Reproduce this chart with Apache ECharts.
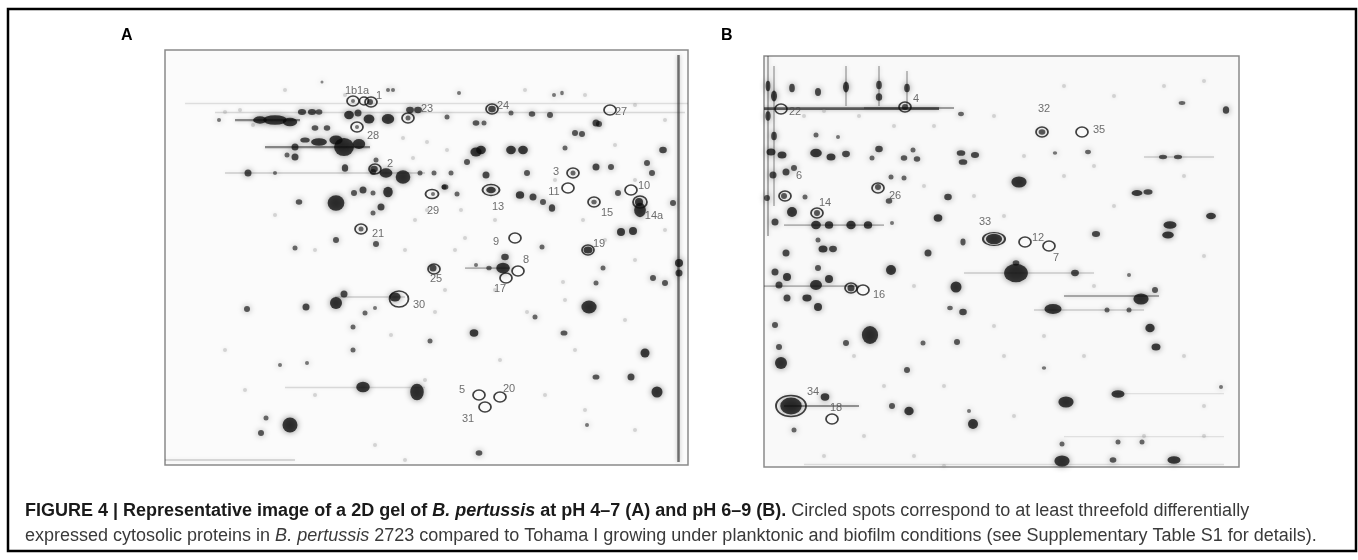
<!DOCTYPE html>
<html>
<head>
<meta charset="utf-8">
<title>2D gel B. pertussis</title>
<script src="https://cdn.jsdelivr.net/npm/echarts@6/dist/echarts.min.js"></script>
<style>html,body{margin:0;background:#fff;}</style>
</head>
<body>
<div id="main" style="width:1358px;height:560px;"></div>
<script type="text/javascript">
// gel A, pH 4-7 : [x, y, volume, elongation] in gel pixels
const spotsA = [
  [110,70,14,2.6],[95,70,9,2],[125,72,10,1.8],[54,70,3,1],
  [137,62,6,1.4],[147,62,6,1.4],[154,62,5,1.3],[150,78,5,1.3],[162,78,5,1.2],
  [184,65,8,1.2],[204,69,9,1.2],[223,69,10,1.3],[193,63,6,1],[245,60,6,1.3],[253,60,6,1.3],
  [179,97,18,1.1],[154,92,10,2.2],[171,90,10,1.5],[194,94,10,1.3],[140,90,6,2],
  [130,97,6,1],[130,107,6,1],[122,105,4,1],[83,123,6,1],[110,123,3,1],[180,118,6,0.8],
  [211,110,4,1],[221,123,10,1.4],[238,127,13,1.1],[208,122,5,1],[255,123,4,1],[269,123,4,1],[286,123,4,1],
  [280,137,5,1.3],[292,144,4,1],[302,112,5,1],[311,102,9,1.3],[316,100,8,1.2],[321,125,6,1],
  [346,100,8,1.2],[358,100,8,1.2],[362,123,5,1],[355,145,7,1.1],[368,147,6,1],[378,152,5,1],[387,158,6,0.8],
  [400,98,4,1],[410,83,5,1],[417,84,5,1],[431,73,6,1],[434,74,5,1],[431,117,6,1],[446,117,5,1],
  [482,113,5,1],[498,100,6,1.2],[453,143,5,1],[456,182,7,1],[468,181,7,1],[475,160,12,0.8],
  [508,153,5,1],[487,123,5,1],[367,64,5,1.2],[385,65,5,1],[346,63,4,1],[311,73,5,1.3],[319,73,4,1],
  [282,67,4,1],[397,43,3,0.8],[389,45,3,1],[294,43,3,1],[228,40,3,1],[223,40,3,1],[157,32,2,1],
  [171,153,15,1.1],[134,152,5,1.2],[189,143,5,1],[198,140,6,1],[208,143,4,1],[223,142,9,0.9],
  [216,157,6,1],[208,163,4,1],[171,190,5,1],[130,198,4,1],[211,194,5,1],[279,137,4,1],
  [340,207,6,1.2],[377,197,4,1],
  [338,218,11,1.3],[324,218,4,1.2],[268,218,6,1],[311,215,3,1],[179,244,6,1],[171,253,11,1],
  [141,257,6,1],[82,259,5,1],[230,247,9,1.3],[200,263,4,1],[210,258,3,1],[424,257,13,1.2],
  [431,233,4,1],[514,213,7,1],[514,223,6,1],[488,228,5,1],[500,233,5,1],[438,218,4,1],
  [309,283,7,1.2],[399,283,5,1.4],[265,291,4,1],[188,277,4,1],[188,300,4,1],[480,303,8,1],[370,267,4,1],
  [198,337,11,1.3],[252,342,14,0.8],[431,327,5,1.4],[466,327,6,1],[492,342,10,1],[125,375,14,1],
  [96,383,5,1],[101,368,4,1],[314,403,5,1.3],[422,375,3,1],[142,313,3,1],[115,315,3,1],
  [192,77,3,1],[268,144,3,1],[429,152,4,1.2],[474,152,7,1],[423,200,7,1.3],[196,179,4,1],
  [327,59,6,1.2],[209,119,6,1.2],[408,123,4,1],[243,68,4,1],[205,52,5,1],[188,51,3,1],[326,140,7,1.5]
];
const faintA = [
  [60,62],[75,60],[88,75],[238,88],[262,92],[282,100],[248,108],[262,160],[296,160],[330,170],
  [300,188],[418,170],[440,190],[470,210],[398,232],[362,262],[270,262],[226,285],[410,300],
  [335,310],[260,330],[380,345],[420,360],[470,380],[150,345],[210,395],[240,410],[60,300],[80,340],
  [120,40],[180,45],[360,40],[420,45],[470,55],[500,70],[110,165],[150,200],[240,200],[280,240],
  [250,170],[290,200],[390,130],[450,95],[470,130],[500,180],[330,240],[400,250],[460,270]
];
// streaks: [x1, y1, x2, y2, density]
const streaksA = [
  [20,53,523,53,0.12],[50,62,520,62,0.15],[513,5,513,412,0.6],[100,97,205,97,0.5],
  [70,70,135,70,0.5],[60,123,260,123,0.2],[170,247,240,247,0.2],[120,337,260,337,0.15],[300,218,345,218,0.3],
  [0,410,130,410,0.2]
];
const circlesA = ['1b','1a','1','23','24','27','28','2','3','11','10','29','13','15','14a','21','9','19','8','25','17','30','5','20','31'];
const circleXA = [188,199,206,243,327,445,192,210,408,403,466,267,326,429,475,196,350,423,353,269,341,234,314,335,320];
const circleYA = [51,51,52,68,59,60,77,119,123,138,140,144,140,152,152,179,188,200,221,219,228,249,345,347,357];
const labelXA = [186,198,214,262,338,456,208,225,391,389,479,268,333,442,489,213,331,434,361,271,335,254,297,344,303];
const labelYA = [41,41,46,59,56,62,86,114,122,142,136,161,157,163,166,184,192,194,210,229,239,255,340,339,369];

// gel B, pH 6-9
const spotsB = [
  [28,32,6,0.6],[54,36,6,0.7],[82,31,7,0.5],[115,29,6,0.6],[115,41,6,0.8],[143,32,6,0.6],
  [4,30,6,0.4],[10,40,7,0.5],[4,60,6,0.5],[10,80,6,0.6],[197,58,4,1.5],[52,79,4,1],[74,81,3,1],
  [7,96,7,1.3],[18,99,7,1.3],[52,97,9,1.4],[67,101,7,1.3],[82,98,6,1.3],[115,93,6,1.2],[108,102,4,1],
  [140,102,5,1.2],[153,103,5,1.2],[149,94,4,1],[197,97,6,1.6],[211,99,6,1.4],[199,106,6,1.6],
  [9,119,6,1],[22,116,6,1],[30,112,5,1],[127,121,4,1],[140,122,4,1],[255,126,12,1.4],
  [184,141,6,1.2],[41,141,4,1],[3,142,5,1],[125,145,5,1.2],[28,156,9,1],[11,166,6,1],
  [52,169,8,1.2],[65,169,7,1.1],[87,169,8,1.1],[104,169,7,1.1],[174,162,7,1.2],[128,167,3,1],
  [199,186,5,0.7],[164,197,6,1],[59,193,7,1.3],[69,193,6,1.3],[22,197,6,1],[54,184,4,1],
  [332,178,6,1.4],[406,169,9,1.8],[404,179,8,1.8],[447,160,7,1.6],[373,137,7,2],[384,136,6,1.8],
  [399,101,5,2],[414,101,5,2],[291,97,3,1.3],[324,96,4,1.5],[462,54,6,0.8],[418,47,4,2],[252,207,5,1.3],
  [11,216,6,1],[23,221,7,1],[15,229,6,1],[23,242,6,1],[52,229,10,1.2],[65,223,7,1],[54,212,5,1],
  [43,242,7,1.4],[54,251,7,1],[127,214,9,1],[192,231,10,1],[199,256,6,1.2],[186,252,4,1.3],
  [252,217,20,1.3],[311,217,6,1.3],[365,219,3,1],[289,253,12,1.8],[343,254,4,1],[365,254,4,1],
  [377,243,12,1.4],[391,234,5,1],[386,272,8,1.1],[392,291,7,1.3],[106,279,16,0.9],[82,287,5,1],
  [159,287,4,1],[193,286,5,1],[11,269,5,1],[15,291,5,1],[17,307,11,1],[143,314,5,1],[280,312,3,1.3],
  [61,341,7,1.2],[27,350,18,1.3],[128,350,5,1],[145,355,8,1.1],[209,368,9,1],[302,346,12,1.4],
  [354,338,9,1.8],[30,374,4,1],[298,388,4,1],[298,405,12,1.4],[410,404,9,1.8],[349,404,5,1.3],
  [354,386,4,1],[378,386,4,1],[205,355,3,1],[457,331,3,1],
  [141,51,5,1],[278,76,5,1.3],[114,131,5,1],[20,140,5,1],[53,157,5,1],[230,183,12,1.6],[87,232,6,1]
];
const faintB = [
  [40,60],[60,55],[95,60],[130,70],[170,70],[230,60],[260,100],[300,120],[330,110],[350,150],
  [420,120],[440,200],[330,230],[280,280],[240,300],[320,300],[420,300],[440,350],[250,360],
  [180,330],[100,380],[150,400],[380,380],[440,380],[90,300],[300,30],[350,40],[400,30],[440,25],
  [160,130],[210,140],[240,160],[150,230],[230,270],[120,330],[60,400],[180,410]
];
const streaksB = [
  [0,52,175,52,0.7],[4,0,4,180,0.35],[10,10,10,150,0.3],[82,10,82,50,0.3],[115,10,115,50,0.3],
  [143,15,143,50,0.3],[300,240,395,240,0.35],[200,217,330,217,0.2],[270,254,380,254,0.2],
  [20,350,95,350,0.45],[380,101,450,101,0.2],[20,169,120,169,0.3],[0,230,95,230,0.3],
  [350,337,460,337,0.1],[300,380,460,380,0.1],[100,52,190,52,0.4],[40,408,460,408,0.12]
];
const circlesB = ['22','4','32','35','6','26','14','33','12','7','16','16b','34','18'];
const circleXB = [17,141,278,318,21,114,53,230,261,285,87,99,27,68];
const circleYB = [53,51,76,76,140,132,157,183,186,190,232,234,350,363];
const labelTextB = ['22','4','32','35','6','26','14','33','12','7','','16','34','18'];
const labelXB = [31,152,280,335,35,131,61,221,274,292,0,115,49,72];
const labelYB = [56,43,53,74,120,140,147,166,182,202,0,239,336,352];

const ringShape = { '30': [19, 16], '13': [17, 11], '14a': [14, 12], '29': [13, 9], '33': [22, 13], '34': [30, 21], '1a': [9, 8] };

function spotSeries(data, idx, name) {
  return {
    name: name, type: 'scatter', xAxisIndex: idx, yAxisIndex: idx, data: data, silent: true,
    symbolSize: function (d) { const r = Math.sqrt(d[3]); return [d[2] * r + 1, d[2] / r + 1]; },
    itemStyle: {
      color: function (p) {
        const a = Math.min(0.95, 0.45 + p.data[2] * 0.07);
        return 'rgba(10,10,10,' + a + ')';
      },
      shadowBlur: 6, shadowColor: 'rgba(0,0,0,0.6)'
    },
    z: 3
  };
}
function faintSeries(data, idx) {
  return {
    type: 'scatter', xAxisIndex: idx, yAxisIndex: idx, data: data, silent: true, symbolSize: 4,
    itemStyle: { color: '#999', opacity: 0.35, shadowBlur: 4, shadowColor: 'rgba(0,0,0,0.3)' }, z: 2
  };
}
function streakSeries(data, idx) {
  return {
    type: 'lines', coordinateSystem: 'cartesian2d', xAxisIndex: idx, yAxisIndex: idx, silent: true, z: 1,
    data: data.map(s => ({
      coords: [[s[0], s[1]], [s[2], s[3]]],
      lineStyle: { color: '#222', width: 1 + s[4] * 2.5, opacity: s[4], shadowBlur: 4, shadowColor: 'rgba(0,0,0,0.4)' }
    }))
  };
}
function ringSeries(ids, xs, ys, idx) {
  return {
    type: 'scatter', xAxisIndex: idx, yAxisIndex: idx, silent: true, z: 5,
    data: ids.map((id, i) => ({ value: [xs[i], ys[i]], symbolSize: ringShape[id] || [12, 10] })),
    itemStyle: { color: 'rgba(0,0,0,0)', borderColor: '#111', borderWidth: 1.6 }
  };
}
function labelSeries(texts, xs, ys, idx) {
  return {
    type: 'scatter', xAxisIndex: idx, yAxisIndex: idx, silent: true, z: 6, symbolSize: 0,
    data: texts.map((t, i) => ({ value: [xs[i], ys[i]], name: t })).filter(d => d.name),
    label: {
      show: true, position: 'inside', formatter: '{b}', color: '#4a4a4a',
      fontFamily: 'Liberation Sans, Arial, sans-serif', fontSize: 11
    }
  };
}

const myChart = echarts.init(document.getElementById('main'), null, { renderer: 'canvas' });
const axisOff = { show: false };
const capFont = 'Liberation Sans, Arial, sans-serif';
const option = {
  backgroundColor: '#fff',
  animation: false,
  grid: [
    { left: 165, top: 50, width: 523, height: 415, show: true, backgroundColor: '#fbfbfb', borderColor: '#8a8a8a', borderWidth: 1.5 },
    { left: 764, top: 56, width: 475, height: 411, show: true, backgroundColor: '#f9f9f9', borderColor: '#8a8a8a', borderWidth: 1.5 }
  ],
  xAxis: [
    Object.assign({ type: 'value', min: 0, max: 523, gridIndex: 0 }, axisOff),
    Object.assign({ type: 'value', min: 0, max: 475, gridIndex: 1 }, axisOff)
  ],
  yAxis: [
    Object.assign({ type: 'value', min: 0, max: 415, inverse: true, gridIndex: 0 }, axisOff),
    Object.assign({ type: 'value', min: 0, max: 411, inverse: true, gridIndex: 1 }, axisOff)
  ],
  graphic: [
    { type: 'rect', shape: { x: 8, y: 9, width: 1348, height: 542 }, style: { fill: 'none', stroke: '#000', lineWidth: 2.5 }, z: 10 },
    { type: 'text', left: 121, top: 28, style: { text: 'A', font: 'bold 16px ' + capFont, fill: '#000' } },
    { type: 'text', left: 721, top: 28, style: { text: 'B', font: 'bold 16px ' + capFont, fill: '#000' } },
    {
      type: 'text', left: 25, top: 502,
      style: {
        text: '{b|FIGURE 4 | Representative image of a 2D gel of }{bi|B. pertussis}{b| at pH 4–7 (A) and pH 6–9 (B).}{r| Circled spots correspond to at least threefold differentially}',
        rich: {
          b: { font: 'bold 18px ' + capFont, fill: '#1a1a1a' },
          bi: { font: 'italic bold 18px ' + capFont, fill: '#1a1a1a' },
          r: { font: '18px ' + capFont, fill: '#3a3a3a' }
        }
      }
    },
    {
      type: 'text', left: 25, top: 527,
      style: {
        text: '{r|expressed cytosolic proteins in }{i|B. pertussis}{r| 2723 compared to Tohama I growing under planktonic and biofilm conditions (see Supplementary Table S1 for details).}',
        rich: {
          r: { font: '18px ' + capFont, fill: '#3a3a3a' },
          i: { font: 'italic 18px ' + capFont, fill: '#3a3a3a' }
        }
      }
    }
  ],
  series: [
    streakSeries(streaksA, 0), faintSeries(faintA, 0), spotSeries(spotsA, 0, 'gel A'),
    ringSeries(circlesA, circleXA, circleYA, 0), labelSeries(circlesA, labelXA, labelYA, 0),
    streakSeries(streaksB, 1), faintSeries(faintB, 1), spotSeries(spotsB, 1, 'gel B'),
    ringSeries(circlesB, circleXB, circleYB, 1), labelSeries(labelTextB, labelXB, labelYB, 1)
  ]
};
myChart.setOption(option);
</script>
</body>
</html>
